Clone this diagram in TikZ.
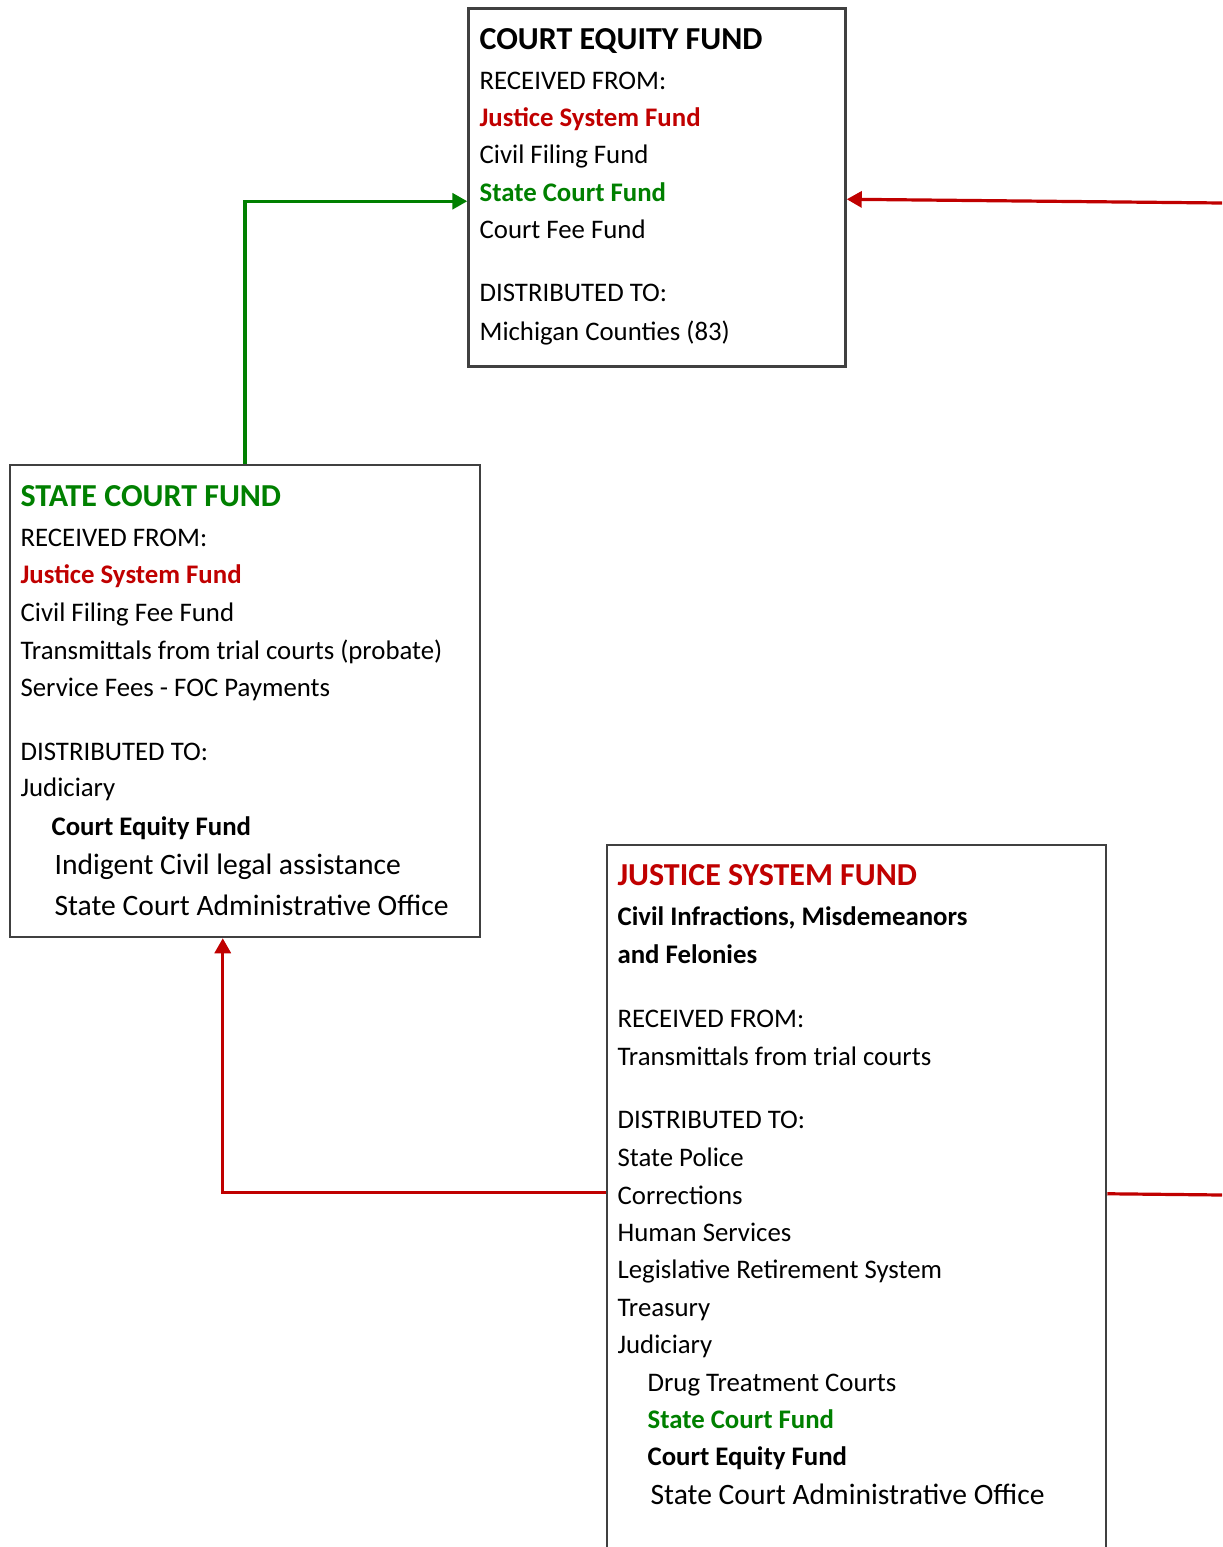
\documentclass[tikz,border=0pt]{standalone}
\usepackage{fontspec}
\setmainfont{Carlito}
\usetikzlibrary{arrows.meta,calc}
\definecolor{fundred}{RGB}{192,0,0}
\definecolor{fundgreen}{RGB}{0,128,0}
\definecolor{boxgray}{RGB}{64,64,64}

\begin{document}
\begin{tikzpicture}[x=0.5pt,y=-0.5pt,>={Triangle[length=7.5pt,width=8pt]}, line width=1.6pt]
                \tikzstyle{fundbox} = [draw=boxgray, line width=1.25pt, rectangle, inner sep=0pt]
                \tikzstyle{txt} = [anchor=base west, inner sep=0pt, font=\fontsize{13.4}{15}\selectfont]
                \tikzstyle{bold} = [txt, font=\fontsize{13.4}{15}\selectfont\bfseries]
                \tikzstyle{head} = [txt, font=\fontsize{16}{18}\selectfont\bfseries]
                \tikzstyle{big} = [txt, font=\fontsize{14.8}{17}\selectfont]

                \clip (0,0) rectangle (1222,1547);

                % Boxes
                \node[fundbox, minimum width=188.5pt, minimum height=179pt] (cef) at (657,187.5) {};
                \node[fundbox, minimum width=235pt, minimum height=236pt] (sc) at (245,701) {};
                \node[fundbox, minimum width=249.5pt, minimum height=380pt] (jsf) at (856.5,1225) {};

                % Court Equity Fund
                \node[head] (cefH) at (478,49) {COURT EQUITY FUND};
                \node[txt] (cef1) at (478,89) {RECEIVED FROM:};
                \node[bold, fundred] (cef2) at (478,126.5) {Justice System Fund};
                \node[txt] (cef3) at (478,163.5) {Civil Filing Fund};
                \node[bold, fundgreen] (cef4) at (478,201.5) {State Court Fund};
                \node[txt] (cef5) at (478,238.5) {Court Fee Fund};
                \node[txt] (cef6) at (478,301.5) {DISTRIBUTED TO:};
                \node[txt] (cef7) at (478,340) {Michigan Counties (83)};

                % State Court Fund
                \node[head, fundgreen] (scH) at (19,506) {STATE COURT FUND};
                \node[txt] (sc1) at (19,546) {RECEIVED FROM:};
                \node[bold, fundred] (sc2) at (19,583.5) {Justice System Fund};
                \node[txt] (sc3) at (19,621) {Civil Filing Fee Fund};
                \node[txt] (sc4) at (19,659) {Transmittals from trial courts (probate)};
                \node[txt] (sc5) at (19,696.5) {Service Fees - FOC Payments};
                \node[txt] (sc6) at (19,760) {DISTRIBUTED TO:};
                \node[txt] (sc7) at (19,796.5) {Judiciary};
                \node[bold] (sc8) at (50,835) {Court Equity Fund};
                \node[big] (sc9) at (53,874) {Indigent Civil legal assistance};
                \node[big] (sc10) at (53,915) {State Court Administrative Office};

                % Justice System Fund
                \node[head, fundred] (jsfH) at (616,885) {JUSTICE SYSTEM FUND};
                \node[bold] (jsf1) at (616,925) {Civil Infractions, Misdemeanors};
                \node[bold] (jsf2) at (616,963) {and Felonies};
                \node[txt] (jsf3) at (616,1027) {RECEIVED FROM:};
                \node[txt] (jsf4) at (616,1065) {Transmittals from trial courts};
                \node[txt] (jsf5) at (616,1128) {DISTRIBUTED TO:};
                \node[txt] (jsf6) at (616,1166) {State Police};
                \node[txt] (jsf7) at (616,1204) {Corrections};
                \node[txt] (jsf8) at (616,1241) {Human Services};
                \node[txt] (jsf9) at (616,1278.5) {Legislative Retirement System};
                \node[txt] (jsf10) at (616,1316) {Treasury};
                \node[txt] (jsf11) at (616,1353) {Judiciary};
                \node[txt] (jsf12) at (646,1391) {Drug Treatment Courts};
                \node[bold, fundgreen] (jsf13) at (646,1428) {State Court Fund};
                \node[bold] (jsf14) at (646,1465) {Court Equity Fund};
                \node[big] (jsf15) at (649,1504) {State Court Administrative Office};

                % Free ends at the page edge
                \coordinate (edgetop) at (1222,203);
                \coordinate (edgebot) at (1222,1195);

                % Connectors
                \draw[->, fundgreen] (sc.north) |- ($(cef.north west)+(0,194)$);
                \draw[->, fundred] (edgetop) -- ($(cef.north east)+(0,192)$);
                \draw[->, fundred] ($(jsf.north west)+(0,349)$) -| ($(sc.south west)+(214,0)$);
                \draw[fundred] ($(jsf.north east)+(0,350)$) -- (edgebot);
            \end{tikzpicture}
\end{document}
